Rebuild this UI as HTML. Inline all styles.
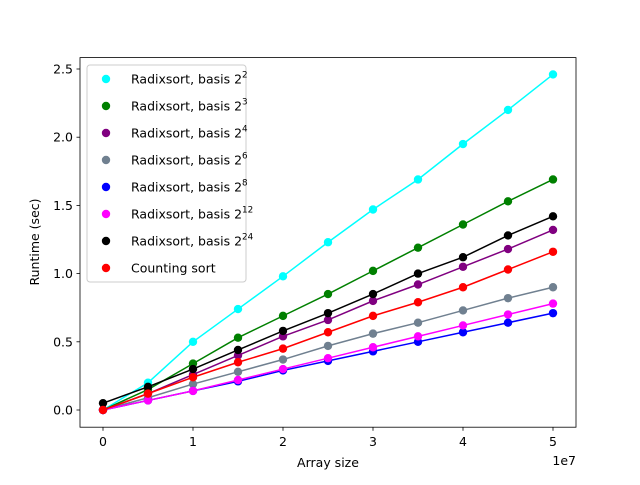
<!DOCTYPE html>
<html><head><meta charset="utf-8"><style>
body{margin:0;background:#fff;font-family:"Liberation Sans","DejaVu Sans",sans-serif;}
svg text{font-family:"DejaVu Sans","Liberation Sans",sans-serif;fill:#000;}
</style></head><body>
<svg id="chart" width="640" height="480" viewBox="0 0 640 480" xmlns="http://www.w3.org/2000/svg">
<rect width="640" height="480" fill="#fff"/>
<g id="plot"></g>
<rect x="80" y="57.6" width="496" height="369.6" fill="none" stroke="#000" stroke-width="0.8"/>
<g id="axes"></g>
<text x="328" y="467" font-size="12.5" text-anchor="middle">Array size</text>
<text transform="translate(39,242) rotate(-90)" font-size="12.5" text-anchor="middle">Runtime (sec)</text>
<text x="576" y="465" font-size="12.5" text-anchor="end">1e7</text>
<g id="legend"></g>
</svg>
<script>
const xValues=[0,0.5,1,1.5,2,2.5,3,3.5,4,4.5,5];
const cyanSeries=[0,0.2,0.5,0.74,0.98,1.23,1.47,1.69,1.95,2.2,2.46];
const greenSeries=[0,0.15,0.34,0.53,0.69,0.85,1.02,1.19,1.36,1.53,1.69];
const purpleSeries=[0,0.12,0.26,0.4,0.54,0.66,0.8,0.92,1.05,1.18,1.32];
const greySeries=[0,0.09,0.19,0.28,0.37,0.47,0.56,0.64,0.73,0.82,0.9];
const blueSeries=[0,0.07,0.14,0.21,0.29,0.36,0.43,0.5,0.57,0.64,0.71];
const magentaSeries=[0,0.07,0.14,0.22,0.3,0.38,0.46,0.54,0.62,0.7,0.78];
const blackSeries=[0.05,0.17,0.3,0.44,0.58,0.71,0.85,1.0,1.12,1.28,1.42];
const redSeries=[0,0.12,0.24,0.35,0.45,0.57,0.69,0.79,0.9,1.03,1.16];
const xTicks=[0,1,2,3,4,5];
const yTicks=[0,0.5,1,1.5,2,2.5];
const yTickLabels=["0.0","0.5","1.0","1.5","2.0","2.5"];
const seriesList=[
 {name:"cyan",data:cyanSeries,color:"#00ffff",label:"Radixsort, basis 2",exp:"2"},
 {name:"green",data:greenSeries,color:"#008000",label:"Radixsort, basis 2",exp:"3"},
 {name:"purple",data:purpleSeries,color:"#800080",label:"Radixsort, basis 2",exp:"4"},
 {name:"grey",data:greySeries,color:"#708090",label:"Radixsort, basis 2",exp:"6"},
 {name:"blue",data:blueSeries,color:"#0000ff",label:"Radixsort, basis 2",exp:"8"},
 {name:"magenta",data:magentaSeries,color:"#ff00ff",label:"Radixsort, basis 2",exp:"12"},
 {name:"black",data:blackSeries,color:"#000000",label:"Radixsort, basis 2",exp:"24"},
 {name:"red",data:redSeries,color:"#ff0000",label:"Counting sort",exp:""}
];
const NS="http://www.w3.org/2000/svg";
const X=v=>103+v*90;
const Y=v=>410-v*136.4;
function mk(tag,attrs,parent){const e=document.createElementNS(NS,tag);for(const k in attrs)e.setAttribute(k,attrs[k]);parent.appendChild(e);return e;}
const plot=document.getElementById('plot'),axes=document.getElementById('axes'),legend=document.getElementById('legend');
seriesList.forEach(s=>{
 const g=mk('g',{},plot);
 
 
 const pl=mk('polyline',{points:s.data.map((v,i)=>X(xValues[i])+','+Y(v)).join(' '),fill:'none',stroke:s.color,'stroke-width':1.5},g);
 
 
 s.data.forEach((v,i)=>{
  const c=mk('circle',{cx:X(xValues[i]),cy:Y(v),r:4.2,fill:s.color},g);
  
  
 });
});
xTicks.forEach(t=>{
 const l=mk('line',{x1:X(t),x2:X(t),y1:427.2,y2:430.7,stroke:'#000','stroke-width':0.8},axes);
 
 
 const tx=mk('text',{x:X(t),y:446,'font-size':12.5,'text-anchor':'middle'},axes);
 tx.textContent=String(t);
 
 
});
yTicks.forEach((t,i)=>{
 const l=mk('line',{x1:76.5,x2:80,y1:Y(t),y2:Y(t),stroke:'#000','stroke-width':0.8},axes);
 
 
 const tx=mk('text',{x:73,y:Y(t)+4.5,'font-size':12.5,'text-anchor':'end'},axes);
 tx.textContent=yTickLabels[i];
 
 
});
const box=mk('rect',{x:87,y:65,width:159,height:217,rx:3,fill:'#fff','fill-opacity':0.8,stroke:'#ccc','stroke-width':1},legend);


seriesList.forEach((s,i)=>{
 const y=79+i*27;
 const g=mk('g',{},legend);
 
 
 mk('circle',{cx:106,cy:y,r:4.2,fill:s.color},g);
 const t=mk('text',{x:131,y:y+4.5,'font-size':12.5},g);
 t.textContent=s.label;
 if(s.exp){const ts=mk('tspan',{'font-size':8.8,dy:-6},t);ts.textContent=s.exp;}
});
</script>
</body></html>
